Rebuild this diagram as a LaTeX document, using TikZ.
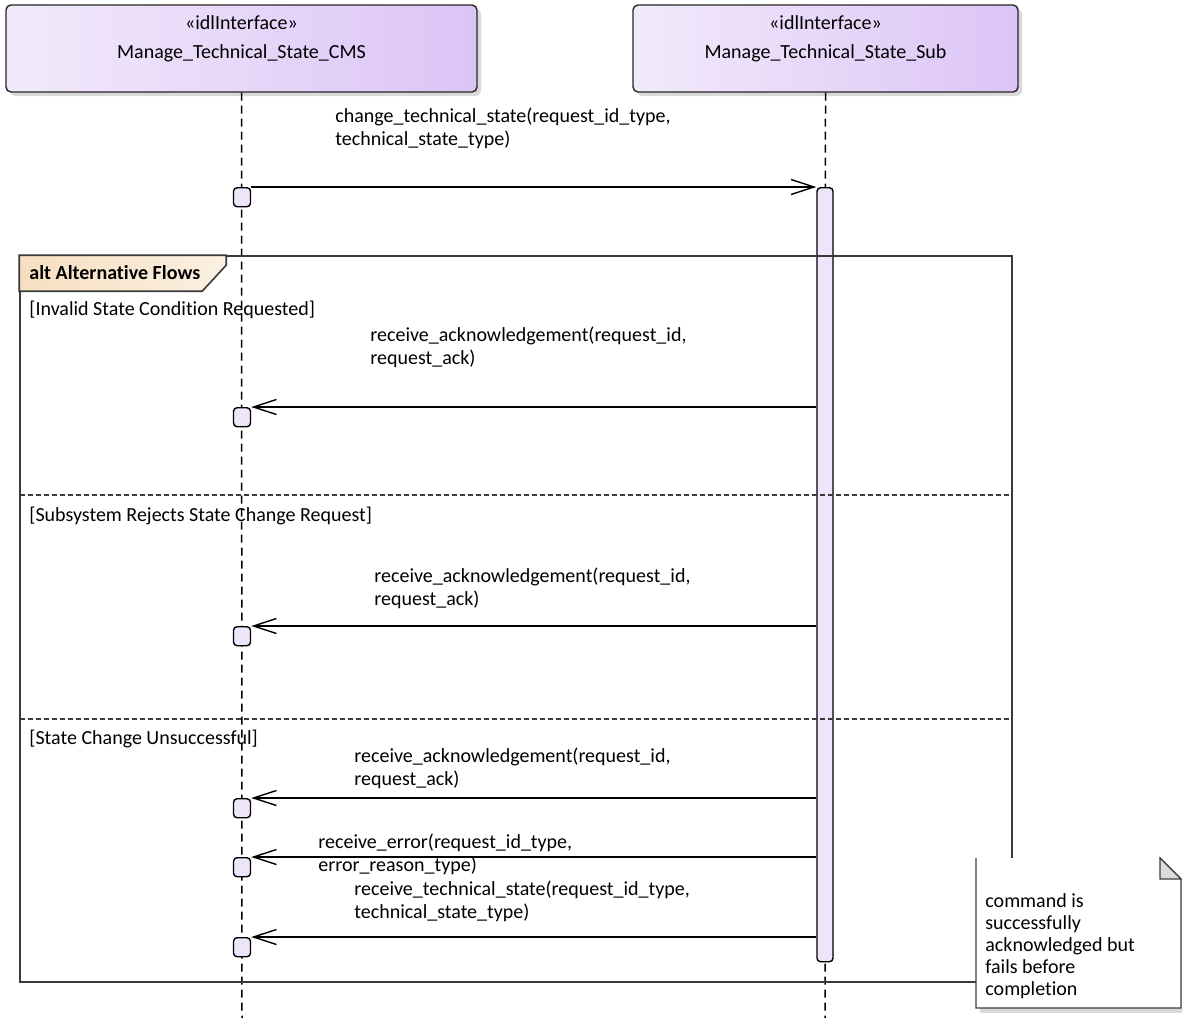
\documentclass[tikz,border=0pt]{standalone}
\usepackage{fontspec}
\setmainfont{Carlito}[Ligatures=CommonOff]
\usetikzlibrary{arrows.meta,positioning,calc,shadows}
\definecolor{headleft}{HTML}{F2EAFB}
\definecolor{headright}{HTML}{DCC4F6}
\definecolor{execfill}{HTML}{EFE5FB}
\definecolor{tableft}{HTML}{F6DFC0}
\definecolor{tabright}{HTML}{FBF0E2}
\definecolor{framecol}{HTML}{3A3A3A}
\definecolor{foldfill}{HTML}{DCDCDC}

\begin{document}
\begin{tikzpicture}[x=0.5pt, y=-0.5pt,
  head/.style={rectangle, rounded corners=2.5pt, draw=black!85, line width=0.7pt, left color=headleft, right color=headright, minimum height=43.5pt, inner sep=0pt, drop shadow={shadow xshift=2pt, shadow yshift=-2pt, fill=black!15, opacity=1}},
  headtxt/.style={align=center, inner sep=0pt, font=\fontsize{10}{14.5}\selectfont},
  exec/.style={rectangle, rounded corners=1.8pt, draw, line width=0.7pt, fill=execfill, minimum width=8.5pt, minimum height=9.5pt, inner sep=0pt, anchor=north},
  actbar/.style={rectangle, rounded corners=1.8pt, draw, line width=0.7pt, fill=execfill, minimum width=8pt, minimum height=387pt, inner sep=0pt, anchor=north},
  life/.style={line width=0.75pt, dash pattern=on 4pt off 2.5pt},
  msg/.style={-{Straight Barb[length=11.5pt,width=7.5pt,line width=0.7pt]}, line width=0.7pt},
  lbl/.style={anchor=west, align=left, inner sep=0pt, font=\fontsize{10}{11.5}\selectfont},
  guard/.style={anchor=west, inner sep=0pt, font=\fontsize{10}{11.5}\selectfont},
  framebox/.style={rectangle, draw=framecol, line width=0.8pt, minimum width=496pt, minimum height=363pt, inner sep=0pt},
  sep/.style={line width=0.55pt, dash pattern=on 2.3pt off 1.7pt, framecol}
]
  \path[use as bounding box, fill=white] (0,0) rectangle (1182,1018);

  \node[head, minimum width=235.5pt] (cms) at (241.5,48.5) {};
  \node[head, minimum width=192.5pt] (sub) at (825.5,48.5) {};
  \node[headtxt] (cmstxt) at (241.5,38.5) {«idlInterface»\\Manage\_Technical\_State\_CMS};
  \node[headtxt] (subtxt) at (825.5,38.5) {«idlInterface»\\Manage\_Technical\_State\_Sub};

  \node[guard] (g1) at (29,310) {[Invalid State Condition Requested]};
  \node[guard] (g2) at (29,516) {[Subsystem Rejects State Change Request]};
  \node[guard] (g3) at (29,739) {[State Change Unsuccessful]};

  \coordinate (cmsend) at (242,1018);
  \coordinate (subend) at (825,1018);
  \draw[life] (cms.south) -- (cmsend);
  \draw[life] (sub.south) -- (subend);

  \node[actbar] (bar) at (825,187) {};
  \foreach \n/\y in {e1/187, e2/407, e3/626, e4/798, e5/857, e6/937}
    \node[exec] (\n) at (242,\y) {};

  \node[framebox] (alt) at (516,619) {};
  \draw[framecol, line width=0.8pt, left color=tableft, right color=tabright] (alt.north west) -- ++(207,0) -- ++(0,10) -- ++(-24,26) -- ++(-183,0) -- cycle;
  \node[guard, font=\fontsize{10}{11.5}\selectfont\bfseries] (alttxt) at (29,273) {alt Alternative Flows};
  \coordinate (s1) at (20,495);
  \coordinate (s2) at (20,719);
  \draw[sep] (s1) -- (s1 -| alt.east);
  \draw[sep] (s2) -- (s2 -| alt.east);

  \draw[msg] (e1.north east) -- (bar.north west);
  \foreach \e in {e2,e3,e4,e5,e6}
    \draw[msg] (bar.west |- \e.north) -- (\e.north east);

  \node[lbl] (m1) at (335,128.5) {change\_technical\_state(request\_id\_type,\\technical\_state\_type)};
  \node[lbl] (m2) at (370,347.5) {receive\_acknowledgement(request\_id,\\request\_ack)};
  \node[lbl] (m3) at (374,588.5) {receive\_acknowledgement(request\_id,\\request\_ack)};
  \node[lbl] (m4) at (354,768.5) {receive\_acknowledgement(request\_id,\\request\_ack)};
  \node[lbl] (m5) at (318,854.5) {receive\_error(request\_id\_type,\\error\_reason\_type)};
  \node[lbl] (m6) at (354,901.5) {receive\_technical\_state(request\_id\_type,\\technical\_state\_type)};

  \fill[black!15] (980,1008) rectangle (1186,1013);
  \fill[black!15] (1181,884) rectangle (1186,1013);
  \fill[white] (976,858) -- (1160,858) -- (1181,879) -- (1181,1008) -- (976,1008) -- cycle;
  \draw[black!75, line width=0.6pt] (976,858) -- (976,1008) -- (1181,1008) -- (1181,879) -- (1160,858);
  \draw[black!75, line width=0.6pt, fill=foldfill] (1160,858) -- (1160,879) -- (1181,879) -- cycle;
  \node[lbl, anchor=north west, font=\fontsize{10}{11}\selectfont] (note) at (985,893) {command is\\successfully\\acknowledged but\\fails before\\completion};
\end{tikzpicture}
\end{document}
